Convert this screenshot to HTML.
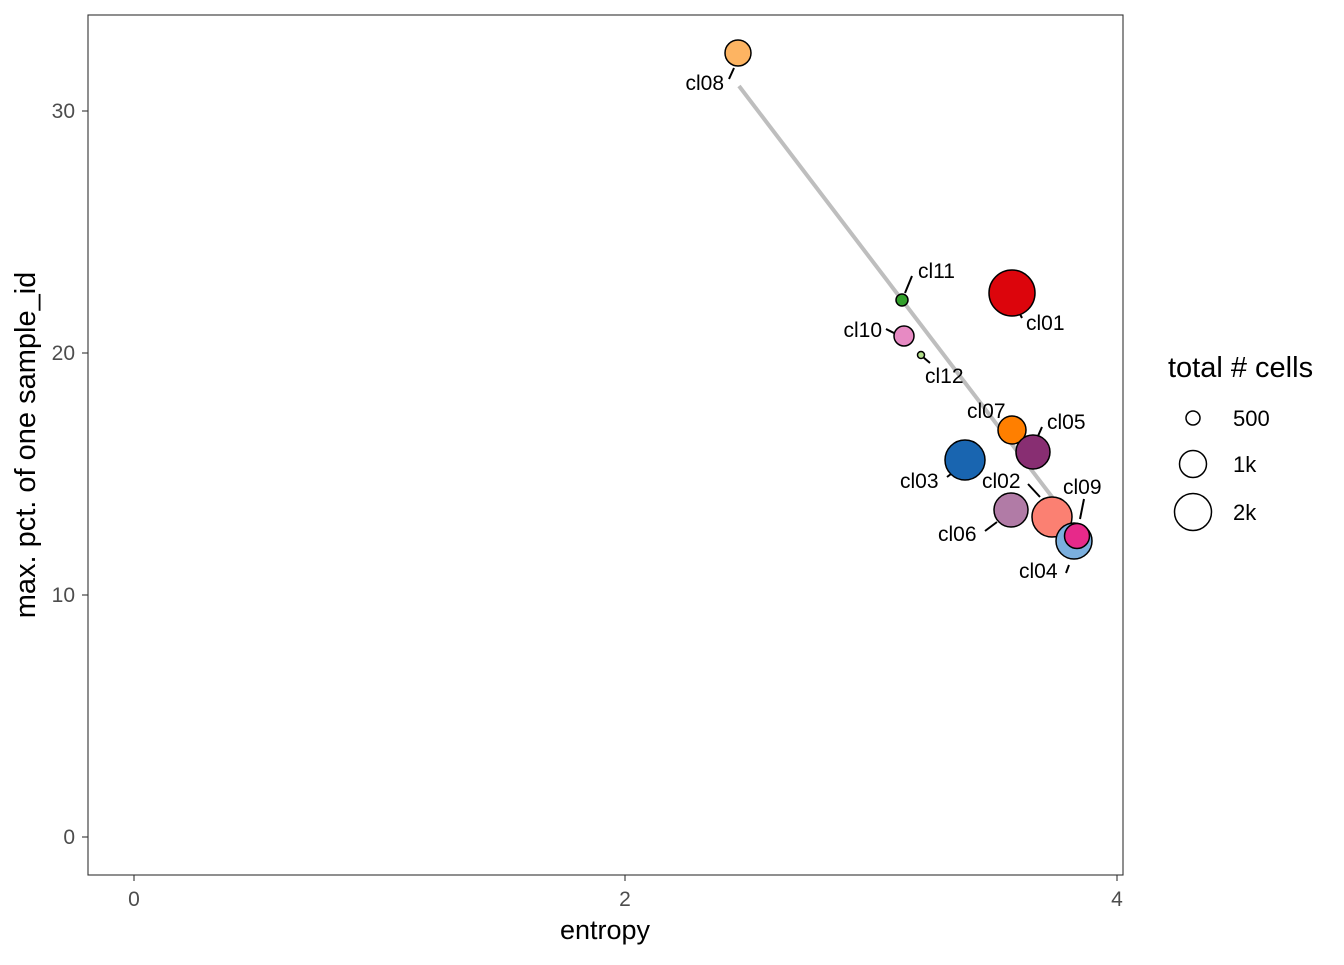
<!DOCTYPE html>
<html><head><style>body{margin:0;background:#fff}</style></head><body>
<svg width="1344" height="960" xmlns="http://www.w3.org/2000/svg" font-family="Liberation Sans, sans-serif">
<rect x="88" y="15" width="1035" height="860" fill="#fff" stroke="#333" stroke-width="1.1"/>
<g stroke="#333" stroke-width="1.1">
<line x1="134" y1="875" x2="134" y2="881"/><line x1="625" y1="875" x2="625" y2="881"/><line x1="1117" y1="875" x2="1117" y2="881"/>
<line x1="82" y1="837" x2="88" y2="837"/><line x1="82" y1="595" x2="88" y2="595"/><line x1="82" y1="353" x2="88" y2="353"/><line x1="82" y1="111" x2="88" y2="111"/>
</g>
<g fill="#4d4d4d" font-size="21">
<text x="134" y="906" text-anchor="middle">0</text><text x="625" y="906" text-anchor="middle">2</text><text x="1117" y="906" text-anchor="middle">4</text>
<text x="75" y="844" text-anchor="end">0</text><text x="75" y="602" text-anchor="end">10</text><text x="75" y="360" text-anchor="end">20</text><text x="75" y="118" text-anchor="end">30</text>
</g>
<text x="605" y="939" font-size="27" text-anchor="middle">entropy</text>
<text transform="translate(35,445) rotate(-90)" font-size="29" text-anchor="middle">max. pct. of one sample_id</text>
<line x1="739" y1="86" x2="1062" y2="510" stroke="#bebebe" stroke-width="4"/>
<g stroke="#000" stroke-width="2">
<line x1="729" y1="79" x2="734" y2="68"/><line x1="905" y1="293" x2="912" y2="276"/><line x1="1019" y1="312" x2="1022" y2="318"/>
<line x1="886" y1="329" x2="894" y2="333"/><line x1="923" y1="357" x2="930" y2="363"/><line x1="1038" y1="436" x2="1042" y2="427"/>
<line x1="947" y1="477" x2="951" y2="474"/><line x1="1028" y1="484" x2="1040" y2="497"/><line x1="985" y1="531" x2="997" y2="522"/>
<line x1="1080" y1="519" x2="1084" y2="499"/><line x1="1066" y1="573" x2="1069" y2="565"/>
</g>
<g stroke="#000" stroke-width="1.5">
<circle cx="738" cy="53" r="13" fill="#FDB462"/>
<circle cx="1012" cy="293" r="23" fill="#DC050C"/>
<circle cx="902" cy="300" r="6" fill="#33A02C"/>
<circle cx="904" cy="336" r="10" fill="#E78AC3"/>
<circle cx="921" cy="355" r="3.5" fill="#B2DF8A"/>
<circle cx="1012" cy="430" r="14" fill="#FF7F00"/>
<circle cx="1033" cy="452" r="17" fill="#882E72"/>
<circle cx="965" cy="460" r="20" fill="#1965B0"/>
<circle cx="1011" cy="510" r="17" fill="#B17BA6"/>
<circle cx="1052" cy="517" r="20" fill="#FB8072"/>
<circle cx="1074" cy="541" r="18" fill="#7BAFDE"/>
<circle cx="1077" cy="536" r="12.5" fill="#E7298A"/>
</g>
<g font-size="21" fill="#000">
<text x="724" y="90" text-anchor="end">cl08</text>
<text x="918" y="278">cl11</text>
<text x="1026" y="330">cl01</text>
<text x="882" y="337" text-anchor="end">cl10</text>
<text x="925" y="383">cl12</text>
<text x="967" y="418">cl07</text>
<text x="1047" y="429">cl05</text>
<text x="900" y="488">cl03</text>
<text x="982" y="488">cl02</text>
<text x="938" y="541">cl06</text>
<text x="1063" y="494">cl09</text>
<text x="1019" y="578">cl04</text>
</g>
<text x="1168" y="377" font-size="29">total # cells</text>
<g stroke="#000" stroke-width="1.5" fill="#fff">
<circle cx="1193" cy="418" r="7"/><circle cx="1193" cy="464" r="13.5"/><circle cx="1193" cy="512" r="18.5"/>
</g>
<g font-size="22"><text x="1233" y="426">500</text><text x="1233" y="472">1k</text><text x="1233" y="520">2k</text></g>
</svg>
</body></html>
